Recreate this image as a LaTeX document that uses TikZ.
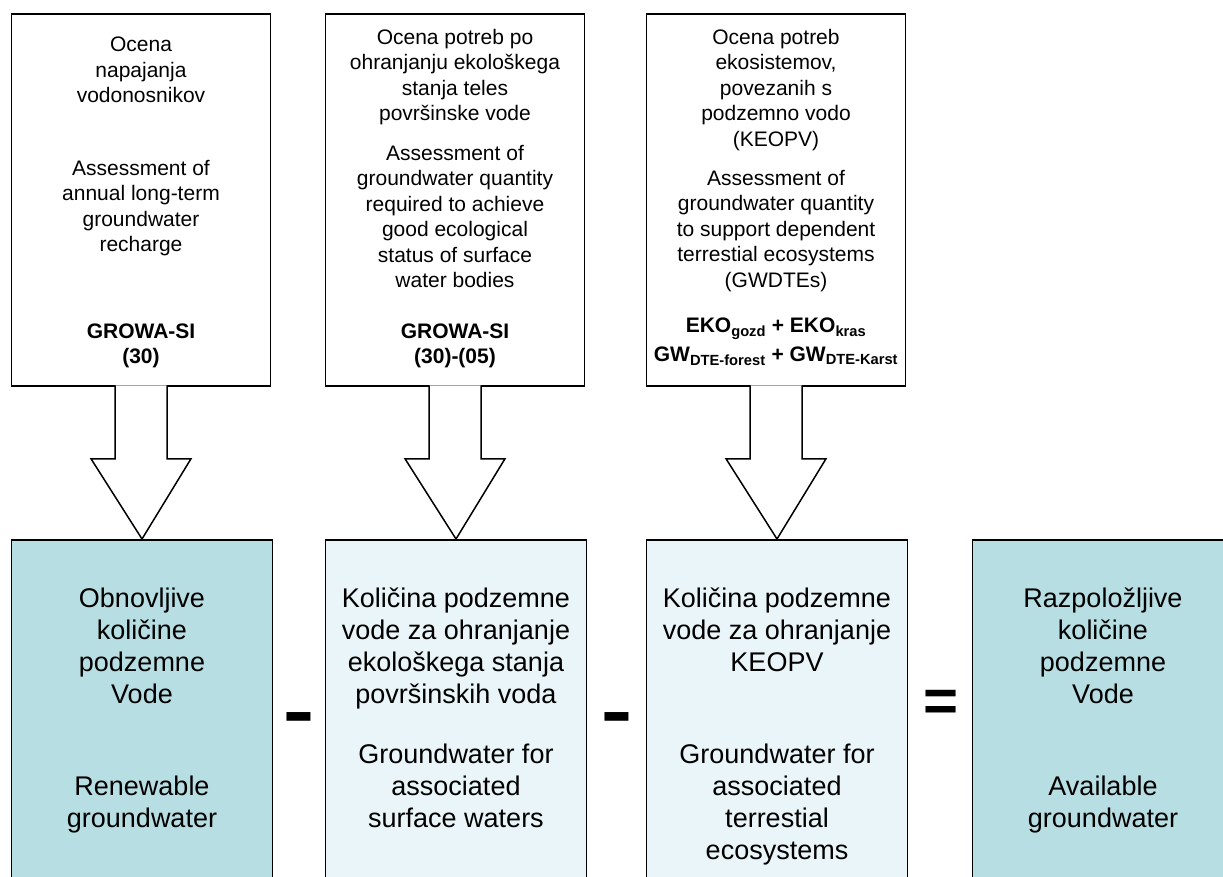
\documentclass[tikz,border=0pt]{standalone}
\usepackage{fontspec}
\usepackage{graphicx}
\setmainfont{Liberation Sans}
\usetikzlibrary{calc}

\definecolor{tealfill}{HTML}{B7DEE2}
\definecolor{palefill}{HTML}{E9F5F8}

\tikzset{
  topbox/.style={draw, line width=1.5pt, minimum width=259pt, minimum height=372pt, inner sep=0pt},
  botbox/.style={draw, line width=1.5pt, minimum width=261pt, minimum height=360pt, inner sep=0pt, anchor=north},
  toptxt/.style={align=center, anchor=north, inner sep=0pt, font=\fontsize{21}{25.5}\selectfont},
  bottxt/.style={align=center, anchor=north, inner sep=0pt, font=\fontsize{27}{32}\selectfont},
  fatarrow/.style={line width=1.5pt, fill=white, line join=miter},
  opsign/.style={inner sep=0pt, font=\bfseries\fontsize{60}{60}\selectfont}
}

\begin{document}
\begin{tikzpicture}[x=1pt, y=-1pt]
  \useasboundingbox (0,0) rectangle (1223,877);
  \clip (0,0) rectangle (1223,877);

  % upper boxes
  \node[topbox] (t1) at (141,200) {};
  \node[topbox] (t2) at (455,200) {};
  \node[topbox] (t3) at (776,200) {};

  \node[toptxt] (t1a) at (141,37) {Ocena\\napajanja\\vodonosnikov};
  \node[toptxt] (t1b) at (141,160) {Assessment of\\annual long-term\\groundwater\\recharge};
  \node[toptxt, font=\bfseries\fontsize{21}{25}\selectfont] (t1c) at (141,324) {GROWA-SI\\(30)};

  \node[toptxt] (t2a) at (455,29) {Ocena potreb po\\ohranjanju ekološkega\\stanja teles\\površinske vode};
  \node[toptxt] (t2b) at (455,145) {Assessment of\\groundwater quantity\\required to achieve\\good ecological\\status of surface\\water bodies};
  \node[toptxt, font=\bfseries\fontsize{21}{25}\selectfont] (t2c) at (455,324) {GROWA-SI\\(30)-(05)};

  \node[toptxt] (t3a) at (776,29) {Ocena potreb\\ekosistemov,\\povezanih s\\podzemno vodo\\(KEOPV)};
  \node[toptxt] (t3b) at (776,170) {Assessment of\\groundwater quantity\\to support dependent\\terrestial ecosystems\\(GWDTEs)};
  \node[toptxt, font=\bfseries\fontsize{21}{25}\selectfont] (t3c) at (776,318)
    {EKO\textsubscript{gozd} + EKO\textsubscript{kras}\\[4pt]GW\textsubscript{DTE-forest} + GW\textsubscript{DTE-Karst}};

  % lower boxes
  \node[botbox, fill=tealfill] (b1) at (142,539) {};
  \node[botbox, fill=palefill] (b2) at (456,539) {};
  \node[botbox, fill=palefill] (b3) at (777,539) {};
  \node[botbox, fill=tealfill] (b4) at (1103,539) {};

  \node[bottxt] (b1a) at (142,588) {Obnovljive\\količine\\podzemne\\Vode};
  \node[bottxt] (b1b) at (142,776) {Renewable\\groundwater};
  \node[bottxt] (b2a) at (456,588) {Količina podzemne\\vode za ohranjanje\\ekološkega stanja\\površinskih voda};
  \node[bottxt] (b2b) at (456,744) {Groundwater for\\associated\\surface waters};
  \node[bottxt] (b3a) at (777,588) {Količina podzemne\\vode za ohranjanje\\KEOPV};
  \node[bottxt] (b3b) at (777,744) {Groundwater for\\associated\\terrestial\\ecosystems};
  \node[bottxt] (b4a) at (1103,588) {Razpoložljive\\količine\\podzemne\\Vode};
  \node[bottxt] (b4b) at (1103,776) {Available\\groundwater};

  % block arrows
  \foreach \a/\b in {t1/b1, t2/b2, t3/b3}
    \filldraw[fatarrow] ($(\a.south)+(-26,-1.5)$) -- ++(0,73.5) -- ++(-24,0) -- (\b.north)
      -- ($(\a.south)+(50,72)$) -- ++(-24,0) -- ++(0,-73.5);

  % operators
  \node[opsign, font=\bfseries\fontsize{44}{44}\selectfont] (m1) at (299,727) {\scalebox{1.1}[2]{–}};
  \node[opsign, font=\bfseries\fontsize{44}{44}\selectfont] (m2) at (617,727) {\scalebox{1.1}[2]{–}};
  \node[opsign] (eq) at (941,706) {=};
\end{tikzpicture}
\end{document}
